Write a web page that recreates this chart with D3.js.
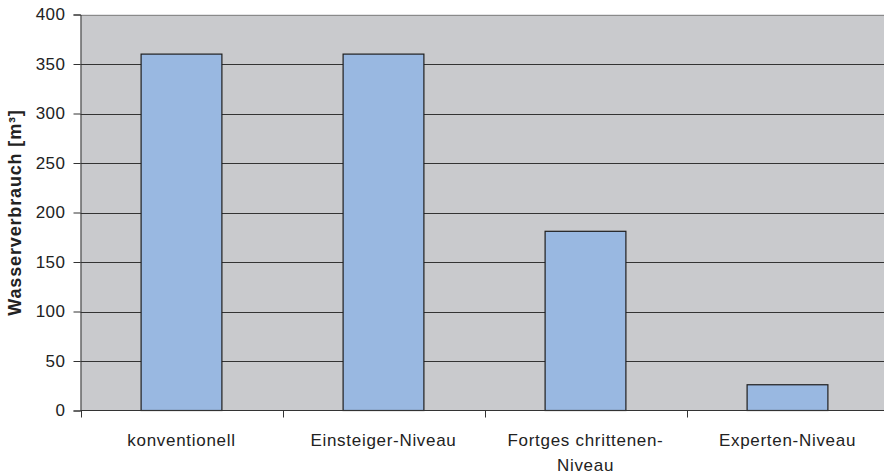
<!DOCTYPE html>
<html><head><meta charset="utf-8">
<script src="https://cdn.jsdelivr.net/npm/d3@7"></script>
<style>body{margin:0;background:#fff}svg{display:block}text{font-family:"Liberation Sans",Arial,sans-serif;fill:#222}</style>
</head><body><svg id="c" width="884" height="475"></svg>
<script>
const categories = ["konventionell", "Einsteiger-Niveau", "Fortges chrittenen-|Niveau", "Experten-Niveau"];
const values = [360, 360, 181, 26];
const yTicks = [0, 50, 100, 150, 200, 250, 300, 350, 400];
const yLabel = "Wasserverbrauch [m³]";

const svg = d3.select("#c");
const m = {l: 80.5, t: 14.5, r: 888.5, b: 410.5};
const x = d3.scaleBand().domain(categories).range([m.l, m.r]).paddingInner(0.6).paddingOuter(0.3);
const xb = d3.scaleBand().domain(categories).range([m.l, m.r]);
const y = d3.scaleLinear().domain([0, 400]).range([m.b, m.t]);

svg.append("rect").attr("x", m.l).attr("y", m.t).attr("width", m.r - m.l).attr("height", m.b - m.t).attr("fill", "#c9cacd");

svg.append("g").selectAll("line").data(yTicks.filter(d => d > 0)).join("line")
  .attr("x1", m.l).attr("x2", m.r).attr("y1", d => Math.round(y(d)) + 0.5).attr("y2", d => Math.round(y(d)) + 0.5)
  .attr("stroke", d => d === 400 ? "#8a8a8a" : "#333").attr("stroke-width", 1);

svg.append("g").selectAll("rect").data(values).join("rect")
  .attr("x", (d, i) => x(categories[i]))
  .attr("y", d => y(d))
  .attr("width", x.bandwidth())
  .attr("height", d => y(0) - y(d))
  .attr("fill", "#99b8e1").attr("stroke", "#1e1e1e").attr("stroke-width", 1.2);

const ya = svg.append("g").attr("transform", `translate(${m.l},0)`)
  .call(d3.axisLeft(y).tickValues(yTicks).tickSize(7).tickPadding(8));
ya.select(".domain").attr("stroke", "#333");
ya.selectAll(".tick line").attr("stroke", "#333");
ya.selectAll("text").attr("font-size", 17).attr("fill", "#222").attr("font-family", "Liberation Sans, Arial, sans-serif").attr("letter-spacing", 0.5);

// x axis line and ticks at band boundaries
svg.append("line").attr("x1", m.l).attr("x2", m.r).attr("y1", m.b).attr("y2", m.b).attr("stroke", "#333");
svg.append("g").selectAll("line").data(categories).join("line")
  .attr("x1", d => Math.round(xb(d)) + 0.5).attr("x2", d => Math.round(xb(d)) + 0.5)
  .attr("y1", m.b).attr("y2", m.b + 7).attr("stroke", "#333");

const lab = svg.append("g").selectAll("text").data(categories).join("text")
  .attr("x", d => xb(d) + xb.bandwidth() / 2)
  .attr("y", 446).attr("text-anchor", "middle").attr("font-size", 17).attr("letter-spacing", 0.7);
lab.each(function(d) {
  const parts = d.split("|");
  parts.forEach((p, k) => d3.select(this).append("tspan").attr("x", xb(d) + xb.bandwidth() / 2).attr("dy", k ? 25 : 0).text(p));
});

svg.append("text").attr("transform", `translate(21,${(m.t + m.b) / 2}) rotate(-90)`)
  .attr("text-anchor", "middle").attr("font-size", 18).attr("font-weight", "bold").attr("letter-spacing", 0.85).text(yLabel);
</script></body></html>
